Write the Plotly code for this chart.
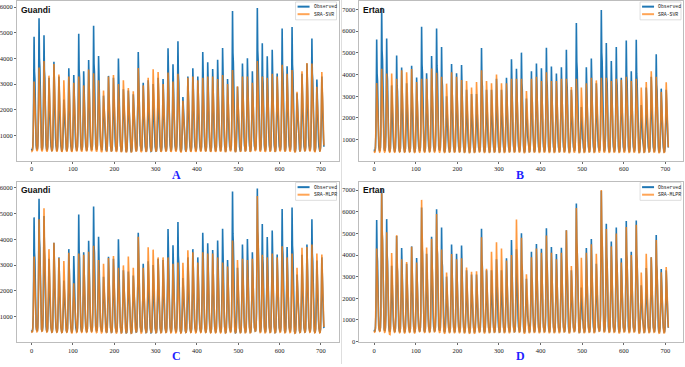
import plotly.graph_objects as go

W, H = 685, 367

# Monthly flow (one row = one year, Jan..Dec), 59 years = 708 points
guandi_observed = [
 [480,430,440,580,1080,2670,4850,3490,3200,1940,980,620],
 [500,450,450,600,1150,3060,5570,4010,3680,2230,1020,640],
 [520,460,470,610,1120,2700,4900,3530,3230,1960,990,630],
 [490,440,450,560,980,1790,3250,2340,2150,1300,880,580],
 [460,410,420,540,1020,2130,3870,2790,2550,1550,920,600],
 [470,420,430,570,1000,1820,3300,2380,2180,1320,900,590],
 [450,400,410,520,900,1500,2400,2100,1800,1050,820,560],
 [470,420,430,560,1010,1990,3620,2610,2390,1450,910,590],
 [460,410,420,550,980,1840,3350,2410,2210,1340,890,580],
 [480,430,440,590,1100,2730,4960,3570,3270,1980,1000,640],
 [500,440,450,580,1030,1930,3500,2520,2310,1400,920,600],
 [480,430,440,570,1050,2170,3940,2840,2600,1580,950,610],
 [510,450,460,600,1140,2900,5270,3790,3480,2110,1030,650],
 [520,460,470,600,1080,2260,4100,2950,2710,1640,960,620],
 [470,420,420,540,920,1600,2550,2200,1900,1100,850,570],
 [460,410,410,550,990,1830,3320,2390,2190,1330,890,580],
 [450,400,410,540,970,1790,3250,2340,2150,1300,880,570],
 [470,420,430,570,1060,2200,4000,2880,2640,1600,950,610],
 [440,390,400,520,930,1650,2800,2300,2000,1150,850,560],
 [430,380,390,510,910,1600,2750,2250,1950,1120,840,550],
 [420,370,380,500,900,1550,2600,2150,1850,1080,830,540],
 [460,410,420,560,1070,2340,4250,3060,2810,1700,960,610],
 [450,400,400,530,950,1680,3050,2200,2010,1220,870,570],
 [440,390,400,530,960,1730,3150,2270,2080,1260,870,570],
 [430,380,390,520,940,1650,3000,2160,1980,1200,860,560],
 [440,390,400,540,970,1790,3250,2340,2150,1300,880,570],
 [450,400,410,540,960,1760,3200,2300,2110,1280,870,570],
 [460,410,420,570,1080,2420,4400,3170,2900,1760,970,620],
 [470,420,430,560,1030,2070,3770,2710,2490,1510,920,600],
 [480,430,440,580,1090,2570,4670,3360,3080,1870,980,630],
 [440,390,400,510,900,1500,2500,2100,1800,1050,830,550],
 [450,400,410,540,980,1820,3300,2380,2180,1320,890,580],
 [460,410,420,550,1010,1990,3620,2610,2390,1450,910,590],
 [450,400,400,540,980,1820,3300,2380,2180,1320,880,570],
 [470,420,430,570,1070,2340,4250,3060,2810,1700,960,610],
 [460,410,420,560,1030,2120,3850,2770,2540,1540,920,600],
 [450,400,410,550,1010,1970,3590,2580,2370,1440,900,590],
 [460,410,420,560,1040,2170,3950,2840,2610,1580,930,600],
 [470,420,430,570,1080,2430,4410,3180,2910,1760,970,620],
 [440,390,400,530,960,1760,3200,2300,2110,1280,870,570],
 [500,440,450,600,1160,3220,5850,4210,3860,2340,1050,660],
 [430,380,390,520,930,1600,2900,2200,1950,1160,850,560],
 [450,400,410,550,1020,2090,3800,2740,2510,1520,920,600],
 [460,410,420,560,1050,2210,4010,2890,2650,1600,940,610],
 [450,400,410,540,1000,1930,3500,2520,2310,1400,900,590],
 [510,450,460,610,1170,3280,5970,4300,3940,2390,1060,670],
 [480,430,440,580,1090,2520,4590,3300,3030,1840,980,630],
 [470,420,430,570,1060,2250,4090,2940,2700,1640,950,610],
 [460,410,420,570,1070,2390,4340,3120,2860,1740,960,620],
 [440,390,400,540,990,1880,3410,2460,2250,1360,890,580],
 [490,440,450,590,1130,2840,5170,3720,3410,2070,1020,650],
 [460,410,420,550,1020,2040,3700,2660,2440,1480,920,600],
 [490,440,450,590,1130,2880,5230,3770,3450,2090,1020,650],
 [430,380,390,510,910,1550,2640,2150,1850,1080,840,550],
 [450,400,410,540,990,1870,3400,2450,2240,1360,890,580],
 [460,410,420,550,1020,2090,3800,2740,2510,1520,920,600],
 [480,430,440,580,1100,2630,4780,3440,3150,1910,990,630],
 [450,400,410,530,960,1750,3180,2290,2100,1270,870,570],
 [450,400,410,540,980,1820,3300,2380,2180,1320,880,560],
]

guandi_sra_svr = [
 [420,380,400,560,1050,1920,3100,2540,2170,1400,950,600],
 [450,390,410,580,1120,2260,3650,2990,2560,1640,1000,620],
 [440,380,400,570,1130,2420,3900,3200,2730,1760,1010,630],
 [430,370,390,560,1080,2060,3330,2730,2330,1500,970,610],
 [440,380,400,570,1110,2340,3780,3100,2650,1700,1000,620],
 [430,370,390,560,1080,2090,3370,2760,2360,1520,970,600],
 [420,360,380,550,1060,1950,3150,2580,2210,1420,950,600],
 [430,370,390,560,1070,2050,3300,2710,2310,1490,960,600],
 [420,360,380,550,1050,1890,3050,2500,2140,1370,940,590],
 [430,380,400,560,1070,2050,3300,2710,2310,1490,960,610],
 [420,370,390,550,1040,1830,2950,2420,2070,1330,930,590],
 [430,380,400,570,1100,2210,3570,2930,2500,1610,990,620],
 [440,380,400,570,1090,2120,3420,2800,2390,1540,980,610],
 [430,370,390,560,1060,1950,3150,2580,2210,1420,950,600],
 [410,350,370,540,1020,1710,2750,2260,1930,1240,910,580],
 [420,360,380,550,1070,2050,3300,2710,2310,1490,960,600],
 [420,370,390,560,1070,2080,3350,2750,2350,1510,960,600],
 [420,360,380,550,1040,1860,3000,2460,2100,1350,940,590],
 [410,350,370,540,1050,1950,3150,2580,2210,1420,940,590],
 [400,340,360,530,1030,1770,2850,2340,2000,1280,920,580],
 [400,340,360,530,1020,1690,2720,2230,1900,1220,910,580],
 [430,370,390,570,1110,2250,3630,2980,2540,1630,990,620],
 [410,350,370,540,1040,1830,2950,2420,2070,1330,930,590],
 [420,360,380,550,1060,2020,3250,2670,2280,1460,950,600],
 [430,370,390,560,1100,2220,3580,2940,2510,1610,990,610],
 [430,370,390,560,1090,2150,3470,2850,2430,1560,980,610],
 [420,360,380,550,1040,1860,3000,2460,2100,1350,940,590],
 [430,370,390,560,1090,2140,3450,2830,2420,1550,980,610],
 [420,360,380,550,1050,1920,3100,2540,2170,1400,950,600],
 [430,370,390,560,1080,2110,3400,2790,2380,1530,970,610],
 [400,340,360,520,980,1460,2350,1930,1650,1060,880,570],
 [420,360,380,550,1060,2020,3250,2670,2280,1460,950,600],
 [420,360,380,550,1070,2050,3300,2710,2310,1490,960,600],
 [420,360,380,550,1060,1950,3150,2580,2210,1420,950,600],
 [430,370,390,560,1060,2020,3250,2670,2280,1460,950,600],
 [430,370,390,560,1070,2050,3300,2710,2310,1490,960,600],
 [420,360,380,550,1070,2050,3300,2710,2310,1490,960,600],
 [420,360,380,550,1060,1980,3200,2620,2240,1440,950,600],
 [430,370,390,560,1070,2080,3350,2750,2350,1510,960,600],
 [410,350,370,540,1040,1860,3000,2460,2100,1350,940,590],
 [440,380,400,570,1100,2200,3550,2910,2490,1600,990,620],
 [410,350,370,540,1040,1810,2920,2390,2040,1310,930,590],
 [420,360,380,550,1070,2050,3300,2710,2310,1490,960,600],
 [430,370,390,560,1070,2050,3300,2710,2310,1490,960,600],
 [420,360,380,550,1050,1890,3050,2500,2140,1370,940,590],
 [450,390,410,580,1130,2420,3900,3200,2730,1760,1010,630],
 [430,370,390,560,1070,2050,3300,2710,2310,1490,960,600],
 [420,360,380,550,1060,2020,3250,2670,2280,1460,950,600],
 [430,370,390,560,1080,2110,3400,2790,2380,1530,970,610],
 [420,360,380,550,1070,2050,3300,2710,2310,1490,960,600],
 [440,380,400,570,1110,2330,3750,3080,2630,1690,1000,620],
 [430,370,390,560,1080,2110,3400,2790,2380,1530,970,610],
 [430,370,390,560,1100,2200,3550,2910,2490,1600,990,620],
 [400,340,360,530,1020,1670,2700,2210,1890,1220,910,580],
 [430,370,390,560,1090,2170,3500,2870,2450,1580,980,610],
 [440,380,400,570,1120,2370,3820,3130,2670,1720,1000,620],
 [440,380,400,570,1120,2360,3800,3120,2660,1710,1000,620],
 [410,350,370,540,1030,1800,2900,2380,2030,1310,930,590],
 [430,370,390,560,1090,2150,3470,2850,2430,1560,980,610],
]

guandi_sra_mlpr = [
 [460,410,420,570,1050,2000,3330,2600,2260,1430,950,600],
 [480,420,430,590,1120,2870,4780,3730,3250,2060,1000,630],
 [500,440,450,600,1150,3120,5200,4060,3540,2240,1020,640],
 [470,410,420,570,1070,2170,3620,2820,2460,1560,960,610],
 [460,400,410,560,1080,2320,3870,3020,2630,1660,970,610],
 [450,400,410,560,1040,1970,3280,2560,2230,1410,940,600],
 [440,390,400,550,1030,1900,3160,2460,2150,1360,930,590],
 [450,400,410,560,1060,2090,3480,2710,2370,1500,950,600],
 [420,360,380,520,960,1380,2300,1790,1560,990,860,570],
 [460,400,410,560,1060,2070,3450,2690,2350,1480,950,600],
 [450,400,410,560,1050,2040,3400,2650,2310,1460,950,600],
 [450,400,410,560,1060,2110,3520,2750,2390,1510,950,600],
 [460,410,420,570,1080,2250,3750,2930,2550,1610,970,610],
 [450,390,400,550,1030,1920,3200,2500,2180,1380,930,590],
 [440,380,390,540,1020,1830,3050,2380,2070,1310,920,590],
 [440,390,400,550,1040,1970,3280,2560,2230,1410,940,600],
 [450,390,400,550,1050,2010,3350,2610,2280,1440,940,600],
 [430,370,380,530,1000,1740,2900,2260,1970,1250,910,580],
 [430,370,380,540,1010,1790,2990,2330,2030,1290,920,580],
 [440,380,390,550,1050,2000,3330,2600,2260,1430,940,600],
 [420,360,370,530,1000,1740,2900,2260,1970,1250,910,580],
 [470,410,420,580,1090,2460,4100,3200,2790,1760,980,620],
 [430,370,380,530,1000,1740,2900,2260,1970,1250,910,580],
 [450,390,400,560,1070,2210,3690,2880,2510,1590,960,610],
 [450,390,400,560,1070,2160,3600,2810,2450,1550,960,610],
 [440,380,390,550,1050,1980,3300,2570,2240,1420,940,600],
 [440,380,390,550,1050,1980,3300,2570,2240,1420,940,600],
 [450,390,400,550,1050,1980,3300,2570,2240,1420,940,600],
 [440,380,390,540,1020,1830,3050,2380,2070,1310,920,590],
 [440,380,390,540,1030,1860,3100,2420,2110,1330,930,590],
 [430,370,380,540,1020,1850,3090,2410,2100,1330,920,590],
 [450,390,400,560,1070,2150,3580,2790,2430,1540,960,610],
 [450,390,400,560,1060,2100,3500,2730,2380,1510,950,600],
 [440,380,390,540,1030,1860,3100,2420,2110,1330,930,590],
 [450,390,400,560,1060,2100,3500,2730,2380,1510,950,600],
 [450,390,400,560,1060,2070,3450,2690,2350,1480,950,600],
 [440,380,390,550,1060,2070,3450,2690,2350,1480,950,600],
 [440,380,390,550,1050,1980,3300,2570,2240,1420,940,600],
 [440,380,390,540,1030,1860,3100,2420,2110,1330,930,590],
 [430,370,380,530,1010,1770,2950,2300,2010,1270,910,580],
 [460,400,410,570,1090,2370,3950,3080,2690,1700,970,620],
 [440,380,390,550,1030,1920,3200,2500,2180,1380,930,590],
 [440,380,390,550,1040,1950,3250,2540,2210,1400,940,600],
 [440,380,390,550,1030,1920,3200,2500,2180,1380,930,590],
 [440,380,390,550,1040,1950,3250,2540,2210,1400,940,600],
 [500,440,450,610,1170,3410,5680,4430,3860,2440,1040,650],
 [450,390,400,560,1050,2040,3400,2650,2310,1460,950,600],
 [440,380,390,550,1050,1980,3300,2570,2240,1420,940,600],
 [450,390,400,560,1060,2070,3450,2690,2350,1480,950,600],
 [440,380,390,550,1050,1980,3300,2570,2240,1420,940,600],
 [460,400,410,570,1080,2240,3730,2910,2540,1600,970,610],
 [440,380,390,550,1050,1980,3300,2570,2240,1420,940,600],
 [450,390,400,560,1060,2070,3450,2690,2350,1480,950,600],
 [420,360,370,530,1000,1740,2900,2260,1970,1250,910,580],
 [450,390,400,560,1070,2200,3670,2860,2500,1580,960,610],
 [460,400,410,570,1070,2220,3700,2890,2520,1590,960,610],
 [460,400,410,570,1080,2280,3800,2960,2580,1630,970,610],
 [440,380,390,550,1060,2070,3450,2690,2350,1480,950,600],
 [440,380,390,550,1050,2050,3410,2660,2320,1470,950,600],
]

ertan_observed = [
 [540,480,490,640,1200,3090,5620,4050,3710,2250,1080,700],
 [560,500,510,660,1260,3890,7080,5100,4670,2830,1150,720],
 [570,510,510,660,1220,3110,5660,4080,3740,2260,1100,710],
 [530,470,480,620,1100,1930,3500,2520,2310,1400,1000,670],
 [530,470,480,630,1160,2680,4880,3510,3220,1950,1060,690],
 [520,460,470,620,1140,2380,4320,3110,2850,1730,1040,680],
 [510,450,460,610,1110,1980,3600,2590,2380,1440,1010,670],
 [520,460,470,620,1140,2420,4400,3170,2900,1760,1040,680],
 [510,450,460,610,1120,2120,3860,2780,2550,1540,1020,670],
 [550,490,500,650,1230,3410,6200,4460,4090,2480,1120,710],
 [530,470,480,620,1130,2230,4060,2920,2680,1620,1030,680],
 [530,470,480,630,1160,2670,4850,3490,3200,1940,1060,690],
 [550,490,500,650,1220,3370,6120,4410,4040,2450,1110,710],
 [560,500,500,650,1190,2900,5270,3790,3480,2110,1080,700],
 [510,450,460,600,1080,1650,3000,2160,1980,1200,980,650],
 [510,450,460,610,1140,2470,4490,3230,2960,1800,1050,680],
 [520,460,470,620,1130,2230,4060,2920,2680,1620,1030,680],
 [520,460,470,620,1140,2440,4440,3200,2930,1780,1040,680],
 [500,440,450,600,1090,1820,3300,2380,2180,1320,990,660],
 [490,430,440,590,1080,1710,3100,2230,2050,1240,980,650],
 [500,440,450,600,1080,1710,3100,2230,2050,1240,980,650],
 [530,470,480,630,1180,2870,5220,3760,3450,2090,1080,700],
 [510,450,460,600,1090,1820,3300,2380,2180,1320,990,660],
 [500,440,450,600,1090,1820,3300,2380,2180,1320,990,660],
 [510,450,460,610,1110,2090,3800,2740,2510,1520,1010,670],
 [500,440,450,600,1090,1820,3300,2380,2180,1320,990,660],
 [510,450,460,610,1120,2120,3850,2770,2540,1540,1020,670],
 [520,460,470,620,1150,2590,4700,3380,3100,1880,1050,690],
 [520,460,470,620,1130,2350,4270,3070,2820,1710,1040,680],
 [530,470,480,630,1170,2760,5010,3610,3310,2000,1070,690],
 [500,440,450,590,1070,1600,2900,2090,1910,1160,970,650],
 [510,450,460,610,1130,2280,4150,2990,2740,1660,1030,680],
 [520,460,470,620,1140,2480,4510,3250,2980,1800,1050,680],
 [520,460,470,620,1130,2360,4290,3090,2830,1720,1040,680],
 [530,470,480,630,1180,2880,5240,3770,3460,2100,1080,700],
 [520,460,470,620,1140,2400,4370,3150,2880,1750,1040,680],
 [510,450,460,610,1130,2230,4050,2920,2670,1620,1030,670],
 [520,460,470,620,1140,2390,4340,3120,2860,1740,1040,680],
 [530,470,480,630,1170,2830,5140,3700,3390,2060,1070,690],
 [500,440,450,600,1090,1820,3300,2380,2180,1320,990,660],
 [550,490,500,650,1240,3510,6380,4590,4210,2550,1120,710],
 [490,430,440,580,1040,1500,2500,2000,1750,1050,950,640],
 [510,450,460,610,1140,2380,4330,3120,2860,1730,1040,680],
 [520,460,470,620,1150,2610,4740,3410,3130,1900,1060,690],
 [510,450,460,610,1110,1980,3600,2590,2380,1440,1010,670],
 [560,500,510,660,1260,3830,6970,5020,4600,2790,1140,720],
 [540,480,490,640,1200,3000,5450,3920,3600,2180,1090,700],
 [520,460,470,620,1150,2540,4620,3330,3050,1850,1050,690],
 [530,470,480,630,1190,2900,5270,3790,3480,2110,1080,700],
 [510,450,460,610,1120,2120,3850,2770,2540,1540,1020,670],
 [540,480,490,640,1200,3060,5570,4010,3680,2230,1090,700],
 [520,460,470,620,1130,2280,4150,2990,2740,1660,1030,680],
 [540,480,490,640,1200,3080,5600,4030,3700,2240,1090,700],
 [490,430,440,580,1050,1550,2600,2050,1800,1080,950,640],
 [500,440,450,600,1100,1870,3400,2450,2240,1360,1000,660],
 [510,450,460,610,1120,2150,3900,2810,2570,1560,1020,670],
 [530,470,480,630,1170,2710,4930,3550,3250,1970,1070,690],
 [500,440,450,600,1090,1840,3350,2410,2210,1340,990,660],
 [500,440,450,600,1090,1820,3300,2380,2180,1320,990,640],
]

ertan_sra_svr = [
 [480,420,430,600,1150,2240,3610,2960,2530,1620,1040,660],
 [490,430,440,620,1200,2650,4270,3500,2990,1920,1080,670],
 [490,430,440,610,1180,2510,4050,3320,2840,1820,1070,670],
 [480,420,430,610,1180,2510,4050,3320,2840,1820,1070,660],
 [480,420,430,600,1160,2360,3800,3120,2660,1710,1050,660],
 [490,430,440,620,1190,2600,4200,3440,2940,1890,1080,670],
 [480,420,430,610,1180,2540,4100,3360,2870,1850,1070,660],
 [490,430,440,620,1190,2640,4250,3490,2980,1910,1080,670],
 [470,410,420,600,1150,2260,3650,2990,2560,1640,1040,650],
 [480,420,430,600,1160,2360,3800,3120,2660,1710,1050,660],
 [480,420,430,600,1160,2360,3800,3120,2660,1710,1050,660],
 [490,430,440,620,1200,2650,4280,3510,3000,1930,1080,670],
 [490,430,440,610,1180,2530,4080,3350,2860,1840,1070,670],
 [480,420,430,610,1170,2420,3900,3200,2730,1760,1060,660],
 [470,410,420,590,1140,2220,3580,2940,2510,1610,1030,650],
 [480,420,430,610,1180,2540,4100,3360,2870,1850,1070,660],
 [480,420,430,610,1170,2420,3900,3200,2730,1760,1060,660],
 [480,420,430,600,1160,2330,3750,3080,2630,1690,1050,660],
 [470,410,420,600,1150,2290,3700,3030,2590,1670,1040,650],
 [460,400,410,590,1130,2110,3400,2790,2380,1530,1020,650],
 [470,410,420,600,1150,2260,3650,2990,2560,1640,1040,650],
 [490,430,440,620,1190,2600,4200,3440,2940,1890,1080,670],
 [470,410,420,600,1150,2290,3700,3030,2590,1670,1040,650],
 [470,410,420,600,1140,2230,3600,2950,2520,1620,1040,650],
 [480,420,430,610,1170,2480,4000,3280,2800,1800,1060,660],
 [470,410,420,600,1140,2230,3600,2950,2520,1620,1040,650],
 [470,410,420,600,1140,2230,3600,2950,2520,1620,1040,650],
 [480,420,430,600,1160,2360,3800,3120,2660,1710,1050,660],
 [480,420,430,600,1160,2360,3800,3120,2660,1710,1050,660],
 [480,420,430,600,1160,2360,3800,3120,2660,1710,1050,660],
 [460,400,410,580,1120,2010,3240,2660,2270,1460,1010,640],
 [480,420,430,600,1160,2360,3800,3120,2660,1710,1050,660],
 [480,420,430,610,1170,2420,3900,3200,2730,1760,1060,660],
 [470,410,420,600,1150,2290,3700,3030,2590,1670,1040,650],
 [480,420,430,610,1180,2540,4100,3360,2870,1850,1070,660],
 [470,410,420,600,1150,2290,3700,3030,2590,1670,1040,650],
 [470,410,420,600,1150,2290,3700,3030,2590,1670,1040,650],
 [480,420,430,600,1160,2360,3800,3120,2660,1710,1050,660],
 [480,420,430,600,1160,2360,3800,3120,2660,1710,1050,660],
 [460,400,410,590,1130,2130,3430,2810,2400,1540,1020,650],
 [480,420,430,600,1160,2360,3800,3120,2660,1710,1050,660],
 [460,400,410,590,1130,2110,3400,2790,2380,1530,1020,650],
 [470,410,420,600,1140,2230,3600,2950,2520,1620,1040,650],
 [480,420,430,610,1160,2390,3850,3160,2700,1730,1050,660],
 [470,410,420,600,1150,2310,3730,3060,2610,1680,1040,650],
 [480,420,430,610,1160,2390,3850,3160,2700,1730,1050,660],
 [480,420,430,610,1160,2390,3850,3160,2700,1730,1050,660],
 [470,410,420,600,1150,2290,3700,3030,2590,1670,1040,650],
 [480,420,430,600,1160,2360,3800,3120,2660,1710,1050,660],
 [470,410,420,600,1160,2330,3760,3080,2630,1690,1050,660],
 [480,420,430,610,1170,2420,3900,3200,2730,1760,1060,660],
 [470,410,420,600,1150,2290,3700,3030,2590,1670,1040,650],
 [480,420,430,600,1160,2360,3800,3120,2660,1710,1050,660],
 [460,400,410,590,1130,2110,3400,2790,2380,1530,1020,650],
 [470,410,420,600,1150,2270,3660,3000,2560,1650,1040,650],
 [490,430,440,620,1190,2570,4150,3400,2910,1870,1070,670],
 [480,420,430,610,1170,2420,3900,3200,2730,1760,1060,660],
 [460,400,410,580,1110,1980,3200,2620,2240,1440,1010,640],
 [470,410,420,600,1150,2260,3640,2980,2550,1640,1040,650],
]

ertan_sra_mlpr = [
 [500,440,450,620,1160,2580,4300,3350,2920,1850,1060,670],
 [540,470,480,650,1240,4120,6860,5350,4660,2950,1120,700],
 [510,430,440,620,1180,3030,5050,3940,3430,2170,1080,680],
 [470,340,330,580,1130,2450,4090,3190,2780,1760,1050,660],
 [500,430,440,610,1170,2950,4920,3840,3350,2120,1080,680],
 [480,410,420,600,1120,2280,3800,2960,2580,1630,1040,660],
 [470,400,410,590,1110,2210,3680,2870,2500,1580,1030,650],
 [490,420,430,610,1150,2630,4380,3420,2980,1880,1060,670],
 [470,400,410,590,1110,2190,3650,2850,2480,1570,1030,650],
 [530,460,470,640,1230,3930,6550,5110,4450,2820,1110,690],
 [490,420,430,610,1150,2610,4350,3390,2960,1870,1060,670],
 [500,430,440,620,1170,2850,4750,3710,3230,2040,1070,680],
 [520,450,460,630,1210,3540,5900,4600,4010,2540,1100,690],
 [490,420,430,610,1150,2550,4250,3320,2890,1830,1060,670],
 [460,390,400,580,1090,1910,3190,2490,2170,1370,1010,640],
 [480,410,420,600,1130,2430,4050,3160,2750,1740,1050,660],
 [480,410,420,600,1120,2280,3800,2960,2580,1630,1040,660],
 [480,410,420,600,1120,2310,3850,3000,2620,1660,1040,660],
 [470,400,410,590,1100,2050,3420,2670,2330,1470,1020,650],
 [460,390,400,580,1090,1940,3230,2520,2200,1390,1010,640],
 [460,390,400,580,1090,1950,3250,2540,2210,1400,1010,640],
 [500,430,440,620,1170,2890,4820,3760,3280,2070,1080,680],
 [470,400,410,590,1100,2020,3370,2630,2290,1450,1020,650],
 [480,410,420,600,1140,2490,4150,3240,2820,1780,1050,660],
 [490,420,430,610,1160,2750,4590,3580,3120,1970,1070,670],
 [490,420,430,610,1150,2580,4300,3350,2920,1850,1060,670],
 [480,410,420,600,1120,2250,3750,2930,2550,1610,1040,660],
 [480,410,420,600,1130,2400,4000,3120,2720,1720,1050,660],
 [510,440,450,630,1200,3380,5640,4400,3840,2430,1090,690],
 [500,430,440,620,1170,2880,4800,3740,3260,2060,1080,680],
 [460,390,400,580,1080,1870,3110,2430,2110,1340,1010,640],
 [480,410,420,600,1130,2340,3900,3040,2650,1680,1040,660],
 [490,420,430,610,1150,2580,4300,3350,2920,1850,1060,670],
 [480,410,420,600,1140,2460,4100,3200,2790,1760,1050,660],
 [500,430,440,620,1170,2940,4900,3820,3330,2110,1080,680],
 [480,410,420,600,1140,2460,4100,3200,2790,1760,1050,660],
 [480,410,420,600,1120,2280,3800,2960,2580,1630,1040,660],
 [480,410,420,600,1140,2460,4100,3200,2790,1760,1050,660],
 [510,440,450,620,1180,3090,5150,4020,3500,2210,1080,680],
 [470,400,410,590,1100,2090,3490,2720,2370,1500,1020,650],
 [520,450,460,640,1220,3700,6170,4810,4200,2650,1100,690],
 [480,410,420,600,1120,2320,3870,3020,2630,1660,1040,660],
 [480,410,420,600,1140,2460,4100,3200,2790,1760,1050,660],
 [490,420,430,610,1160,2700,4500,3510,3060,1940,1060,670],
 [480,410,420,600,1130,2440,4060,3170,2760,1750,1050,660],
 [540,470,480,650,1250,4210,7010,5470,4770,3010,1120,700],
 [510,440,450,630,1190,3120,5200,4060,3540,2240,1090,680],
 [490,420,430,610,1150,2640,4400,3430,2990,1890,1060,670],
 [500,430,440,620,1180,3000,5000,3900,3400,2150,1080,680],
 [470,400,410,590,1110,2190,3650,2850,2480,1570,1030,650],
 [510,440,450,630,1190,3180,5300,4130,3600,2280,1090,690],
 [480,410,420,600,1130,2400,4000,3120,2720,1720,1050,660],
 [510,440,450,630,1190,3240,5400,4210,3670,2320,1090,690],
 [460,390,400,580,1090,1910,3190,2490,2170,1370,1010,640],
 [480,410,420,600,1130,2440,4060,3170,2760,1750,1050,660],
 [480,410,420,600,1130,2340,3900,3040,2650,1680,1040,660],
 [500,430,440,620,1170,2820,4700,3670,3200,2020,1070,680],
 [460,390,400,580,1090,1920,3200,2500,2180,1380,1010,640],
 [470,400,410,590,1100,2070,3450,2690,2350,1480,1020,650],
]

x_tick_values = [0, 100, 200, 300, 400, 500, 600, 700]
y_ticks_guandi = [1000, 2000, 3000, 4000, 5000, 6000]
y_ticks_ertan_svr = [1000, 2000, 3000, 4000, 5000, 6000, 7000]
y_ticks_ertan_mlpr = [0, 1000, 2000, 3000, 4000, 5000, 6000, 7000]
panel_letters = ["A", "B", "C", "D"]
station_names = ["Guandi", "Ertan", "Guandi", "Ertan"]
model_names = ["SRA-SVR", "SRA-SVR", "SRA-MLPR", "SRA-MLPR"]


def flat(rows):
    return [v for r in rows for v in r]


def px(x):
    return x / W


def py(y):
    return 1 - y / H


BLUE = "#1f77b4"
ORANGE = "rgba(255,127,14,0.8)"
ORANGE_LEG = "rgba(255,127,14,0.7)"

panels = [
    dict(obs=guandi_observed, pred=guandi_sra_svr, yticks=y_ticks_guandi,
         yrange=[15, 6240], box=(16, 1, 338, 162)),
    dict(obs=ertan_observed, pred=ertan_sra_svr, yticks=y_ticks_ertan_svr,
         yrange=[30, 7390], box=(359, 1, 683, 162)),
    dict(obs=guandi_observed, pred=guandi_sra_mlpr, yticks=y_ticks_guandi,
         yrange=[15, 6240], box=(16, 183, 338, 345)),
    dict(obs=ertan_observed, pred=ertan_sra_mlpr, yticks=y_ticks_ertan_mlpr,
         yrange=[-30, 7400], box=(359, 183, 683, 345)),
]

fig = go.Figure()
layout = dict(
    width=W, height=H,
    margin=dict(l=0, r=0, t=0, b=0),
    paper_bgcolor="white", plot_bgcolor="white",
    showlegend=False,
    shapes=[], annotations=[],
)

tick_font = dict(family="Liberation Serif, Times New Roman, serif", size=6.5, color="#222")

for i, p in enumerate(panels):
    n = "" if i == 0 else str(i + 1)
    l, t, r, b = p["box"]
    obs = flat(p["obs"])
    pred = flat(p["pred"])
    idx = list(range(len(obs)))
    fig.add_trace(go.Scatter(x=idx, y=obs, mode="lines", name="Observed",
                             line=dict(color=BLUE, width=1.6),
                             xaxis="x" + n, yaxis="y" + n, hoverinfo="skip"))
    fig.add_trace(go.Scatter(x=idx, y=pred, mode="lines", name=model_names[i],
                             line=dict(color=ORANGE, width=1.6),
                             xaxis="x" + n, yaxis="y" + n, hoverinfo="skip"))
    layout["xaxis" + n] = dict(
        domain=[px(l), px(r)], anchor="y" + n, range=[-35.35, 742.35],
        tickmode="array", tickvals=x_tick_values, ticks="outside", ticklen=2,
        tickwidth=0.8, tickcolor="#444", tickfont=tick_font,
        showline=True, linecolor="#bdbdbd", linewidth=1, mirror=True,
        showgrid=False, zeroline=False,
    )
    layout["yaxis" + n] = dict(
        domain=[py(b), py(t)], anchor="x" + n, range=p["yrange"],
        tickmode="array", tickvals=p["yticks"], ticks="outside", ticklen=2,
        tickwidth=0.8, tickcolor="#444", tickfont=tick_font,
        showline=True, linecolor="#bdbdbd", linewidth=1, mirror=True,
        showgrid=False, zeroline=False,
    )
    # station title
    layout["annotations"].append(dict(
        xref="paper", yref="paper", x=px(l + 2), y=py(t + 2),
        xanchor="left", yanchor="top", showarrow=False,
        text="<b>" + station_names[i] + "</b>",
        font=dict(family="Liberation Sans, Arial, sans-serif", size=8.5, color="#111"),
    ))
    # panel letter
    layout["annotations"].append(dict(
        xref="paper", yref="paper", x=px((l + r) / 2 - 1), y=py(b + 14),
        xanchor="center", yanchor="middle", showarrow=False,
        text="<b>" + panel_letters[i] + "</b>",
        font=dict(family="Liberation Serif, Times New Roman, serif", size=12, color="#1f1fff"),
    ))
    # legend box
    lx0, lx1 = r - 43, r - 2
    ly0, ly1 = t + 1, t + 19
    layout["shapes"].append(dict(
        type="rect", xref="paper", yref="paper",
        x0=px(lx0), x1=px(lx1), y0=py(ly1), y1=py(ly0),
        line=dict(color="#d6d6d6", width=0.8), fillcolor="rgba(255,255,255,0.85)",
        layer="above",
    ))
    for k, (name, col, yy) in enumerate([("Observed", BLUE, t + 5.7), (model_names[i], ORANGE_LEG, t + 13.3)]):
        layout["shapes"].append(dict(
            type="line", xref="paper", yref="paper",
            x0=px(lx0 + 2), x1=px(lx0 + 14), y0=py(yy), y1=py(yy),
            line=dict(color=col, width=2), layer="above",
        ))
        layout["annotations"].append(dict(
            xref="paper", yref="paper", x=px(lx0 + 16), y=py(yy),
            xanchor="left", yanchor="middle", showarrow=False, text=name,
            font=dict(family="Liberation Mono, DejaVu Sans Mono, monospace", size=4.8, color="#222"),
        ))

# faint separator between left and right figures
layout["shapes"].append(dict(
    type="line", xref="paper", yref="paper", x0=px(341), x1=px(341), y0=0, y1=1,
    line=dict(color="#dedede", width=1),
))

fig.update_layout(**layout)
fig.write_html(
    "out.html",
    config={"displayModeBar": False, "staticPlot": True},
    post_script="document.body.style.margin='0';document.body.style.overflow='hidden';",
)
